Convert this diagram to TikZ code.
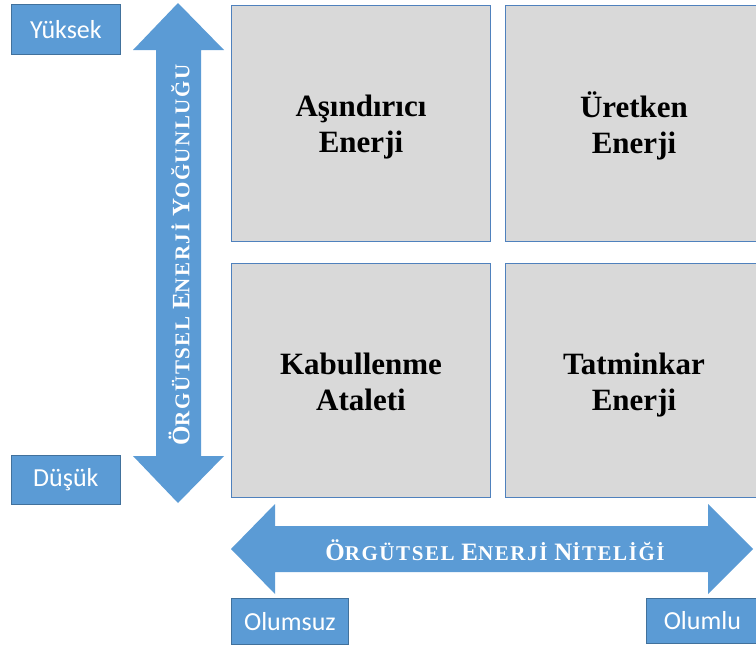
\documentclass[tikz,border=0pt]{standalone}
\usepackage{fontspec}
\setmainfont{Liberation Serif}
\newfontfamily\labelfont{Carlito}
\newfontfamily\axisfont[LetterSpace=7.5]{Liberation Serif}
\usetikzlibrary{positioning}
\definecolor{axiscol}{RGB}{91,155,213}
\definecolor{tagedge}{RGB}{65,113,156}
\definecolor{quadcol}{RGB}{217,217,217}
\definecolor{quadedge}{RGB}{79,129,189}
\newcommand{\capword}[2]{{\fontsize{25}{25}\selectfont #1}{\fontsize{21}{21}\selectfont #2}}

\begin{document}
\begin{tikzpicture}[
			x=1pt,
			y=-1pt,
			quad/.style={
				draw=quadedge,
				fill=quadcol,
				line width=0.8pt
			},
			quadtext/.style={
				align=center,
				font=\bfseries\fontsize{31}{36}\selectfont
			},
			tag/.style={
				draw=tagedge,
				fill=axiscol,
				text=white,
				line width=0.8pt,
				anchor=north west,
				inner sep=0pt,
				font=\labelfont\fontsize{26}{26}\selectfont
			},
			axis/.style={
				fill=axiscol
			},
			axistext/.style={
				text=white,
				font=\axisfont\bfseries\fontsize{21}{21}\selectfont
			}
			]
			\clip (0,0) rectangle (756,648);
			
			% Quadrants
			\draw[quad] (231,5) rectangle (490,241);
			\draw[quad] (505,5) rectangle (762,241);
			\draw[quad] (231,263) rectangle (490,497);
			\draw[quad] (505,263) rectangle (762,497);
			\node[quadtext] (ae) at (361,127) {Aşındırıcı\\Enerji};
			\node[quadtext] (ue) at (634,126) {Üretken\\Enerji};
			\node[quadtext] (ka) at (361,382) {Kabullenme\\Ataleti};
			\node[quadtext] (te) at (634,385) {Tatminkar\\Enerji};
			
			% Vertical axis
			\fill[axis] (178,3) -- (224,50) -- (201,50) -- (201,456) -- (224,456)
				-- (178,503) -- (133,456) -- (156,456) -- (156,50) -- (133,50) -- cycle;
			\node[axistext, rotate=90] (yog) at (179,255)
				{\capword{Ö}{RGÜTSEL} \capword{E}{NERJİ} \capword{Y}{OĞUNLUĞU}};
			
			% Horizontal axis
			\fill[axis] (231,549) -- (275,504) -- (275,526) -- (708,526) -- (708,504)
				-- (753,549) -- (708,594) -- (708,572) -- (275,572) -- (275,594) -- cycle;
			\node[axistext] (nit) at (495,550)
				{\capword{Ö}{RGÜTSEL} \capword{E}{NERJİ} \capword{N}{İTELİĞİ}};
			
			% Tags
			\node[tag, minimum width=109pt, minimum height=50pt] (yuk) at (11,4) {Yüksek};
			\node[tag, minimum width=109pt, minimum height=49pt] (dus) at (11,455) {Düşük};
			\node[tag, minimum width=117pt, minimum height=46pt] (olz) at (231,598) {Olumsuz};
			\node[tag, minimum width=112pt, minimum height=45pt] (olu) at (646,598) {Olumlu};
		\end{tikzpicture}
\end{document}
